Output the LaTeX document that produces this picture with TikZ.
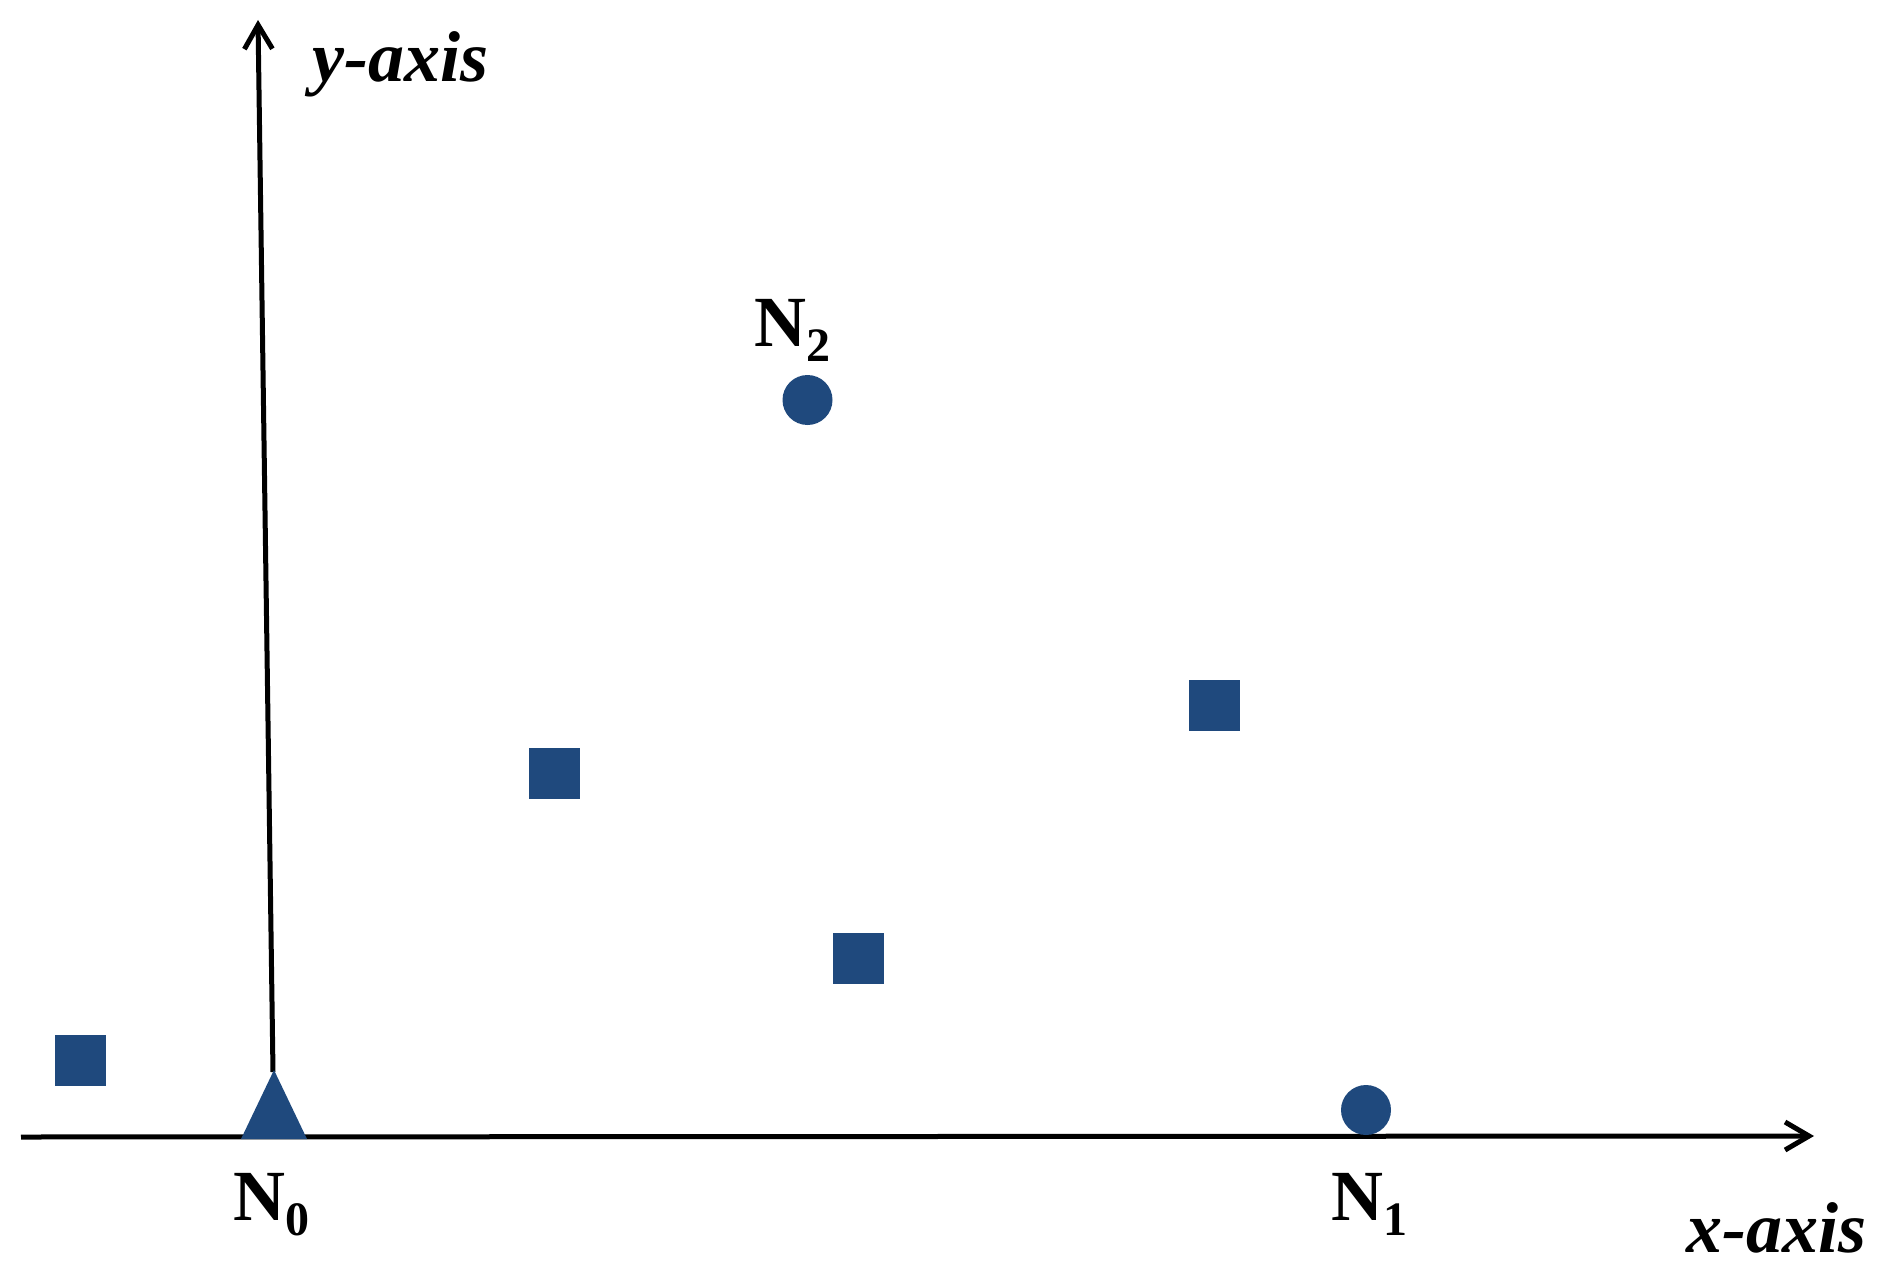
\documentclass[tikz,border=0pt]{standalone}
\usepackage{fontspec}
\setmainfont{Liberation Serif}
\usetikzlibrary{arrows.meta}
\definecolor{mkblue}{RGB}{31,73,125}
\newcommand\Nlab[1]{N\raisebox{-15pt}{\fontsize{48pt}{48pt}\selectfont #1}}
\begin{document}
\begin{tikzpicture}[x=1pt,y=-1pt,
  axisline/.style={line width=5pt,-{Straight Barb[length=24pt,width=28pt,line width=5pt]}},
  sqmark/.style={rectangle,fill=mkblue,minimum size=51pt,inner sep=0pt,draw=none},
  cirmark/.style={circle,fill=mkblue,minimum size=50pt,inner sep=0pt,draw=none},
  nlabel/.style={inner sep=0pt,anchor=base west,font=\fontsize{72pt}{72pt}\selectfont\bfseries},
  axlabel/.style={inner sep=0pt,anchor=base west,font=\fontsize{72pt}{72pt}\selectfont\bfseries\itshape}]
\useasboundingbox (0,0) rectangle (1893,1279);
% axes
\coordinate (xs) at (21,1137);
\coordinate (xe) at (1814,1136);
\coordinate (ys) at (273,1072);
\coordinate (ye) at (258,20);
\draw[axisline] (xs) -- (xe);
\draw[axisline] (ys) -- (ye);
% triangle N0
\coordinate (t1) at (241,1139);
\coordinate (t2) at (307,1139);
\coordinate (t3) at (274,1070);
\fill[mkblue] (t1) -- (t2) -- (t3) -- cycle;
% circles
\node[cirmark] (n1) at (1366,1110) {};
\node[cirmark] (n2) at (807.5,400) {};
% squares
\node[sqmark] (s1) at (80.5,1060) {};
\node[sqmark] (s2) at (554,773) {};
\node[sqmark] (s3) at (858.5,958) {};
\node[sqmark] (s4) at (1214,705.5) {};
% labels
\node[nlabel] (l0) at (233,1220) {\Nlab{0}};
\node[nlabel] (l1) at (1331,1220) {\Nlab{1}};
\node[nlabel] (l2) at (754,346) {\Nlab{2}};
\node[axlabel] (ly) at (312,82) {y-axis};
\node[axlabel] (lx) at (1686,1252) {x-axis};
\end{tikzpicture}
\end{document}
